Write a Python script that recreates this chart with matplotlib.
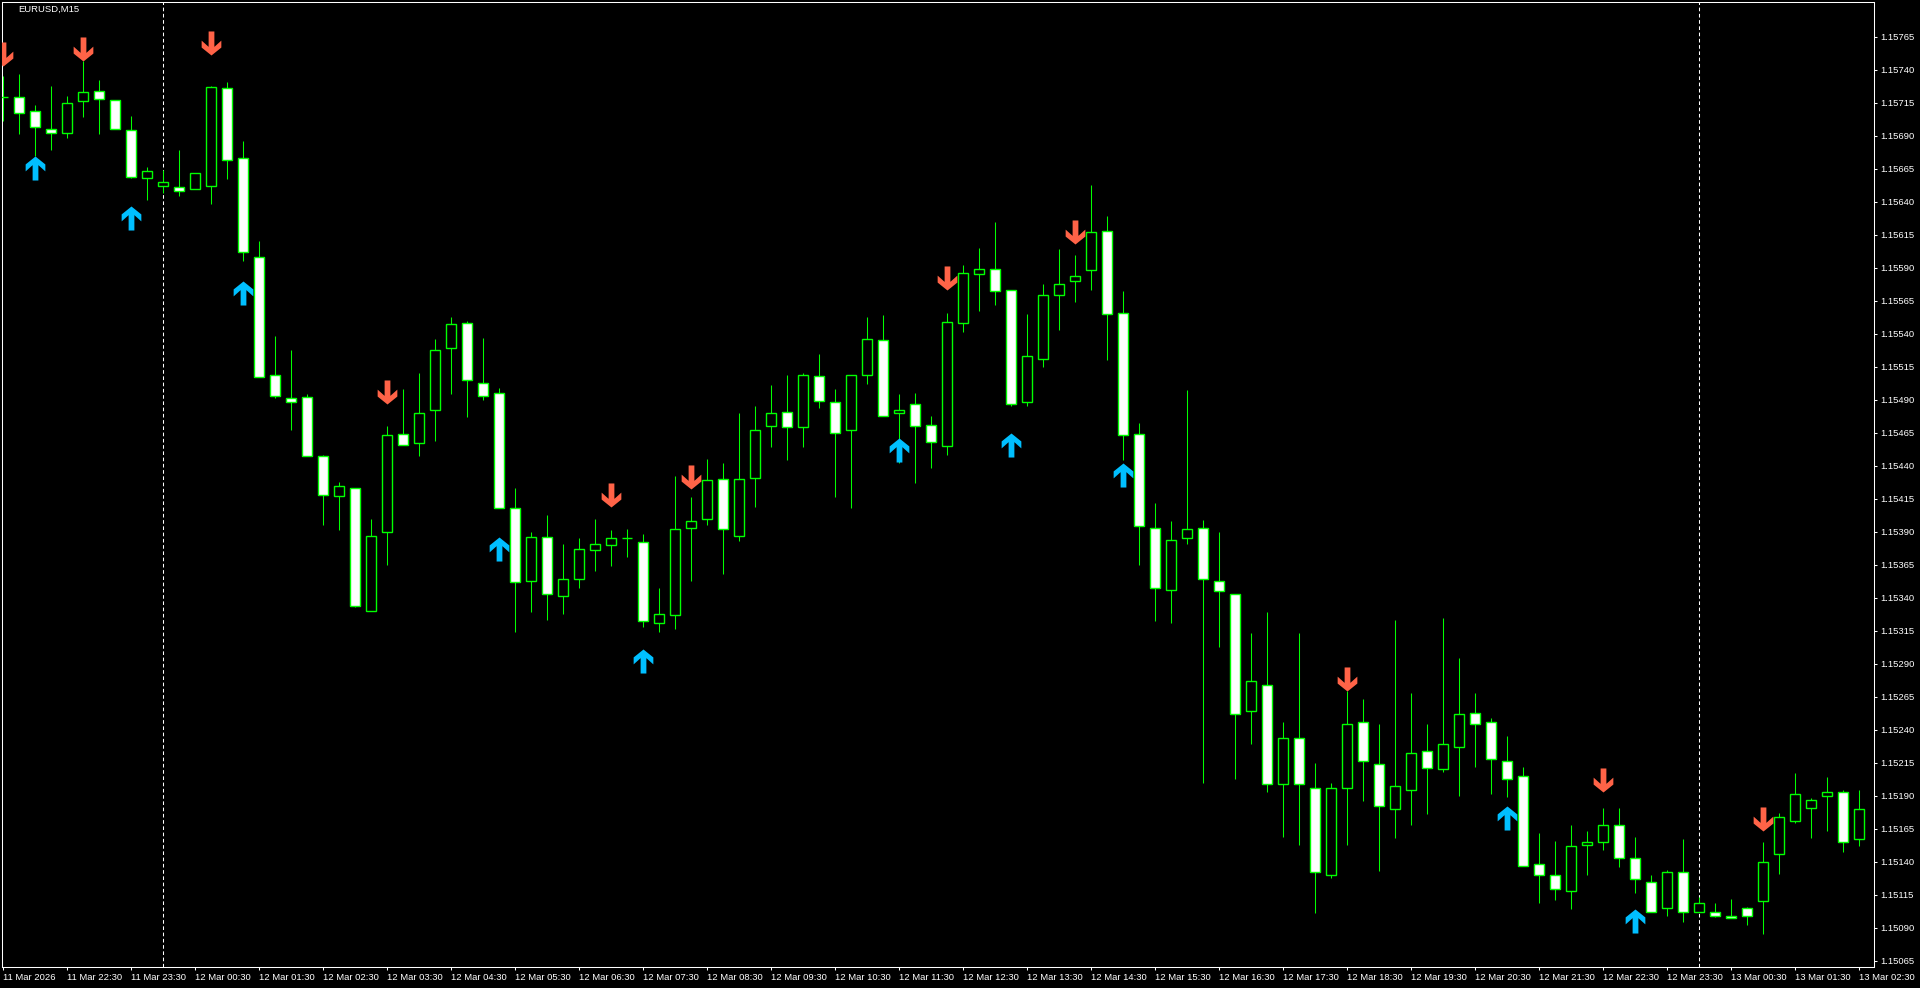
import numpy as np
import pandas as pd
import matplotlib
matplotlib.use('Agg')
import matplotlib.pyplot as plt
from matplotlib.path import Path

plt.rcParams['font.family'] = ['Liberation Sans', 'DejaVu Sans']

# EURUSD M15 bars, first bar 11 Mar 2026 21:30
opens = [1.15719, 1.15719, 1.15709, 1.15695, 1.15692, 1.15716, 1.15724, 1.15717, 1.15694, 1.15658,
         1.15652, 1.15651, 1.15650, 1.15652, 1.15726, 1.15673, 1.15598, 1.15509, 1.15491, 1.15492,
         1.15447, 1.15417, 1.15423, 1.15330, 1.15390, 1.15464, 1.15457, 1.15482, 1.15529, 1.15548,
         1.15503, 1.15495, 1.15408, 1.15353, 1.15386, 1.15341, 1.15354, 1.15376, 1.15380, 1.15385,
         1.15382, 1.15321, 1.15327, 1.15393, 1.15400, 1.15430, 1.15387, 1.15431, 1.15470, 1.15481,
         1.15469, 1.15508, 1.15488, 1.15467, 1.15509, 1.15535, 1.15480, 1.15487, 1.15471, 1.15455,
         1.15548, 1.15585, 1.15589, 1.15573, 1.15488, 1.15521, 1.15569, 1.15580, 1.15588, 1.15618,
         1.15556, 1.15464, 1.15393, 1.15346, 1.15385, 1.15393, 1.15353, 1.15343, 1.15254, 1.15274,
         1.15199, 1.15234, 1.15196, 1.15130, 1.15196, 1.15246, 1.15214, 1.15180, 1.15194, 1.15224,
         1.15210, 1.15227, 1.15253, 1.15246, 1.15216, 1.15205, 1.15138, 1.15130, 1.15118, 1.15153,
         1.15155, 1.15168, 1.15143, 1.15125, 1.15105, 1.15132, 1.15102, 1.15102, 1.15099, 1.15105,
         1.15110, 1.15146, 1.15171, 1.15181, 1.15190, 1.15193, 1.15157]
highs = [1.15735, 1.15737, 1.15713, 1.15728, 1.15720, 1.15747, 1.15732, 1.15717, 1.15705, 1.15666,
         1.15664, 1.15679, 1.15662, 1.15728, 1.15731, 1.15686, 1.15610, 1.15538, 1.15528, 1.15494,
         1.15448, 1.15428, 1.15423, 1.15400, 1.15470, 1.15498, 1.15510, 1.15536, 1.15553, 1.15550,
         1.15537, 1.15499, 1.15423, 1.15390, 1.15403, 1.15381, 1.15385, 1.15400, 1.15391, 1.15392,
         1.15388, 1.15347, 1.15432, 1.15416, 1.15445, 1.15442, 1.15480, 1.15485, 1.15501, 1.15509,
         1.15510, 1.15525, 1.15498, 1.15509, 1.15553, 1.15554, 1.15494, 1.15495, 1.15478, 1.15556,
         1.15592, 1.15605, 1.15625, 1.15573, 1.15555, 1.15578, 1.15604, 1.15600, 1.15653, 1.15629,
         1.15572, 1.15472, 1.15412, 1.15398, 1.15497, 1.15399, 1.15390, 1.15343, 1.15313, 1.15329,
         1.15246, 1.15313, 1.15215, 1.15200, 1.15269, 1.15263, 1.15244, 1.15323, 1.15268, 1.15244,
         1.15325, 1.15294, 1.15268, 1.15249, 1.15235, 1.15212, 1.15162, 1.15156, 1.15168, 1.15163,
         1.15181, 1.15181, 1.15159, 1.15130, 1.15134, 1.15157, 1.15113, 1.15109, 1.15112, 1.15106,
         1.15155, 1.15177, 1.15207, 1.15188, 1.15204, 1.15194, 1.15194]
lows = [1.15701, 1.15691, 1.15675, 1.15679, 1.15688, 1.15704, 1.15691, 1.15695, 1.15658, 1.15641,
        1.15647, 1.15644, 1.15650, 1.15638, 1.15657, 1.15595, 1.15507, 1.15491, 1.15467, 1.15447,
        1.15395, 1.15391, 1.15333, 1.15330, 1.15365, 1.15456, 1.15447, 1.15459, 1.15494, 1.15477,
        1.15490, 1.15408, 1.15314, 1.15329, 1.15323, 1.15328, 1.15347, 1.15360, 1.15364, 1.15371,
        1.15318, 1.15314, 1.15316, 1.15353, 1.15395, 1.15358, 1.15383, 1.15409, 1.15454, 1.15444,
        1.15454, 1.15484, 1.15416, 1.15408, 1.15502, 1.15478, 1.15442, 1.15427, 1.15438, 1.15448,
        1.15541, 1.15557, 1.15562, 1.15485, 1.15485, 1.15515, 1.15543, 1.15564, 1.15573, 1.15520,
        1.15444, 1.15365, 1.15322, 1.15321, 1.15381, 1.15200, 1.15303, 1.15203, 1.15229, 1.15193,
        1.15159, 1.15153, 1.15101, 1.15128, 1.15153, 1.15186, 1.15133, 1.15158, 1.15168, 1.15176,
        1.15208, 1.15190, 1.15212, 1.15191, 1.15189, 1.15137, 1.15109, 1.15111, 1.15104, 1.15130,
        1.15149, 1.15136, 1.15116, 1.15102, 1.15099, 1.15094, 1.15102, 1.15098, 1.15097, 1.15092,
        1.15085, 1.15131, 1.15169, 1.15158, 1.15163, 1.15147, 1.15152]
closes = [1.15719, 1.15707, 1.15697, 1.15692, 1.15715, 1.15723, 1.15718, 1.15695, 1.15659, 1.15663,
          1.15655, 1.15648, 1.15662, 1.15727, 1.15672, 1.15602, 1.15507, 1.15493, 1.15488, 1.15447,
          1.15418, 1.15425, 1.15334, 1.15387, 1.15463, 1.15456, 1.15480, 1.15528, 1.15547, 1.15505,
          1.15493, 1.15408, 1.15352, 1.15386, 1.15343, 1.15354, 1.15377, 1.15381, 1.15385, 1.15385,
          1.15322, 1.15328, 1.15392, 1.15398, 1.15429, 1.15392, 1.15430, 1.15467, 1.15480, 1.15469,
          1.15509, 1.15489, 1.15465, 1.15509, 1.15536, 1.15478, 1.15482, 1.15470, 1.15458, 1.15549,
          1.15586, 1.15589, 1.15572, 1.15487, 1.15523, 1.15569, 1.15578, 1.15584, 1.15617, 1.15555,
          1.15463, 1.15394, 1.15347, 1.15384, 1.15392, 1.15354, 1.15345, 1.15252, 1.15277, 1.15199,
          1.15234, 1.15199, 1.15132, 1.15196, 1.15244, 1.15216, 1.15182, 1.15197, 1.15222, 1.15211,
          1.15229, 1.15252, 1.15244, 1.15218, 1.15203, 1.15137, 1.15130, 1.15119, 1.15152, 1.15155,
          1.15168, 1.15143, 1.15127, 1.15102, 1.15132, 1.15102, 1.15109, 1.15099, 1.15097, 1.15099,
          1.15140, 1.15174, 1.15191, 1.15187, 1.15193, 1.15155, 1.15180]

# indicator arrows: bar index and price of the arrow tip
sell_bars = [0, 5, 13, 24, 38, 43, 59, 67, 84, 100, 110]
sell_prices = [1.15743, 1.15747, 1.15751, 1.15487, 1.15409, 1.15422, 1.15573, 1.15608, 1.15269, 1.15193, 1.15163]
buy_bars = [2, 8, 15, 31, 40, 56, 63, 70, 94, 102]
buy_prices = [1.15675, 1.15637, 1.15580, 1.15386, 1.15301, 1.15461, 1.15465, 1.15442, 1.15182, 1.15104]

o = np.array(opens)
h = np.array(highs)
l = np.array(lows)
c = np.array(closes)
n = len(o)
x = np.arange(n)
times = pd.date_range('2026-03-11 21:30', periods=n, freq='15min')

GREEN = '#00FF00'

fig = plt.figure(figsize=(19.2, 9.88), dpi=100, facecolor='black')
ax = fig.add_axes([2.3 / 1920, 20.7 / 988, 1872 / 1920, 965 / 988])
ax.set_facecolor('black')

# candles
ax.vlines(x, l, h, color=GREEN, lw=0.75, zorder=2)
up = c >= o
ax.bar(x, np.abs(c - o), bottom=np.minimum(o, c), width=0.62,
       color=np.where(up, 'black', 'white'), edgecolor=GREEN, linewidth=1.0, zorder=3)

# day separators
for i, t in enumerate(times):
    if t.hour == 0 and t.minute == 0:
        ax.axvline(i, color='white', lw=0.75, ls=(0, (3.5, 2.5)), zorder=1)

# arrows
up_verts = [(0, 0), (0.41, -0.33), (0.41, -0.62), (0.12, -0.36), (0.12, -1),
            (-0.12, -1), (-0.12, -0.36), (-0.41, -0.62), (-0.41, -0.33), (0, 0)]
up_arrow = Path(up_verts, closed=True)
down_arrow = Path([(vx, -vy) for vx, vy in up_verts], closed=True)
ax.plot(buy_bars, buy_prices, ls='none', marker=up_arrow, ms=34.6,
        color='#00BFFF', mew=0, zorder=4)
ax.plot(sell_bars, sell_prices, ls='none', marker=down_arrow, ms=34.6,
        color='#FF6347', mew=0, zorder=4)

ax.set_xlim(-0.0625, 116.94)
ax.set_ylim(1.150600, 1.157911)

# price axis
ax.yaxis.tick_right()
yt = np.round(1.15065 + 0.00025 * np.arange(29), 5)
ax.set_yticks(yt)
ax.set_yticklabels(['%.5f' % v for v in yt])

# time axis
xt = list(range(0, n, 4))
xl = [times[i].strftime('%d %b %H:%M') for i in xt]
xl[0] = times[0].strftime('%d %b %Y')
ax.set_xticks(xt)
ax.set_xticklabels(xl, ha='left')

ax.tick_params(colors='white', direction='out', length=2.5, width=0.75,
               labelsize=6.8, pad=1.5)
for s in ax.spines.values():
    s.set_color('white')
    s.set_linewidth(0.75)

fig.text(18 / 1920, 1 - 5 / 988, 'EURUSD,M15', color='white', fontsize=6.8,
         ha='left', va='top')

fig.savefig('out.png', dpi=100, facecolor='black')
